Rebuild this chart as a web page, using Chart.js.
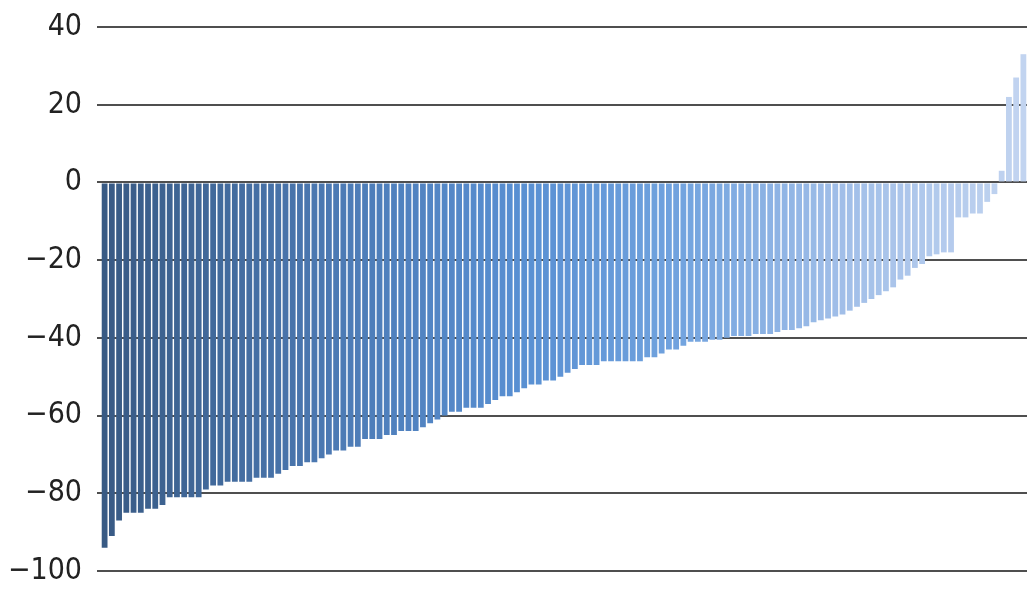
<!DOCTYPE html>
<html>
<head>
<meta charset="utf-8">
<script src="https://cdn.jsdelivr.net/npm/chart.js@4/dist/chart.umd.min.js"></script>
<style>
  html, body { margin: 0; padding: 0; background: #ffffff; }
  #wrap { width: 1027px; height: 590px; }
</style>
</head>
<body>
<div id="wrap"><canvas id="chart"></canvas></div>
<script>
// values, one bar each, left to right
const values = [
  -94, -91, -87, -85, -85, -85, -84, -84, -83, -81,
  -81, -81, -81, -81, -79, -78, -78, -77, -77, -77,
  -77, -76, -76, -76, -75, -74, -73, -73, -72, -72,
  -71, -70, -69, -69, -68, -68, -66, -66, -66, -65,
  -65, -64, -64, -64, -63, -62, -61, -60, -59, -59,
  -58, -58, -58, -57, -56, -55, -55, -54, -53, -52,
  -52, -51, -51, -50, -49, -48, -47, -47, -47, -46,
  -46, -46, -46, -46, -46, -45, -45, -44, -43, -43,
  -42, -41, -41, -41, -40.5, -40.5, -40, -39.5, -39.5, -39.5,
  -39, -39, -39, -38.5, -38, -38, -37.5, -37, -36, -35.5,
  -35, -34.5, -34, -33, -32, -31, -30, -29, -28, -27,
  -25, -24, -22, -21, -19, -18.5, -18, -18, -9, -9,
  -8, -8, -5, -3, 3, 22, 27, 33
];
const categories = values.map((v, i) => 'item ' + (i + 1));
const yTicks = [40, 20, 0, -20, -40, -60, -80, -100];

// colour ramp dark steel blue -> pale blue
const stops = [
  [0.00, [56, 90, 132]],
  [0.25, [76, 122, 180]],
  [0.45, [88, 143, 210]],
  [0.62, [112, 162, 222]],
  [0.80, [160, 190, 232]],
  [1.00, [194, 212, 240]]
];
function rampColor(t) {
  for (let k = 1; k < stops.length; k++) {
    if (t <= stops[k][0]) {
      const a = stops[k - 1], b = stops[k];
      const f = (t - a[0]) / (b[0] - a[0]);
      const c = a[1].map((v, j) => Math.round(v + (b[1][j] - v) * f));
      return 'rgb(' + c.join(',') + ')';
    }
  }
  return 'rgb(' + stops[stops.length - 1][1].join(',') + ')';
}
const barColors = values.map((v, i) => rampColor(i / (values.length - 1)));

new Chart(document.getElementById('chart'), {
  type: 'bar',
  data: {
    labels: categories,
    datasets: [{
      data: values,
      backgroundColor: barColors,
      borderWidth: 0,
      barPercentage: 0.8,
      categoryPercentage: 1.0
    }]
  },
  options: {
    responsive: true,
    maintainAspectRatio: false,
    animation: false,
    layout: { padding: { top: 27, bottom: 19, left: 0, right: 0 } },
    plugins: { legend: { display: false }, tooltip: { enabled: false } },
    scales: {
      x: { display: false },
      y: {
        min: -100,
        max: 40,
        z: 1,
        afterBuildTicks: s => { s.ticks = yTicks.map(v => ({ value: v })); },
        afterFit: s => { s.width = 101; s.paddingTop = 0; s.paddingBottom = 0; },
        border: { display: false },
        grid: {
          color: 'rgba(60,60,60,0.9)',
          lineWidth: 2,
          tickLength: 4,
          drawTicks: true
        },
        ticks: {
          color: '#222222',
          padding: 15,
          font: { family: '"DejaVu Sans Condensed", "Liberation Sans Narrow", sans-serif', size: 30 },
          callback: v => String(v).replace('-', '\u2212')
        }
      }
    }
  }
});
</script>
</body>
</html>
